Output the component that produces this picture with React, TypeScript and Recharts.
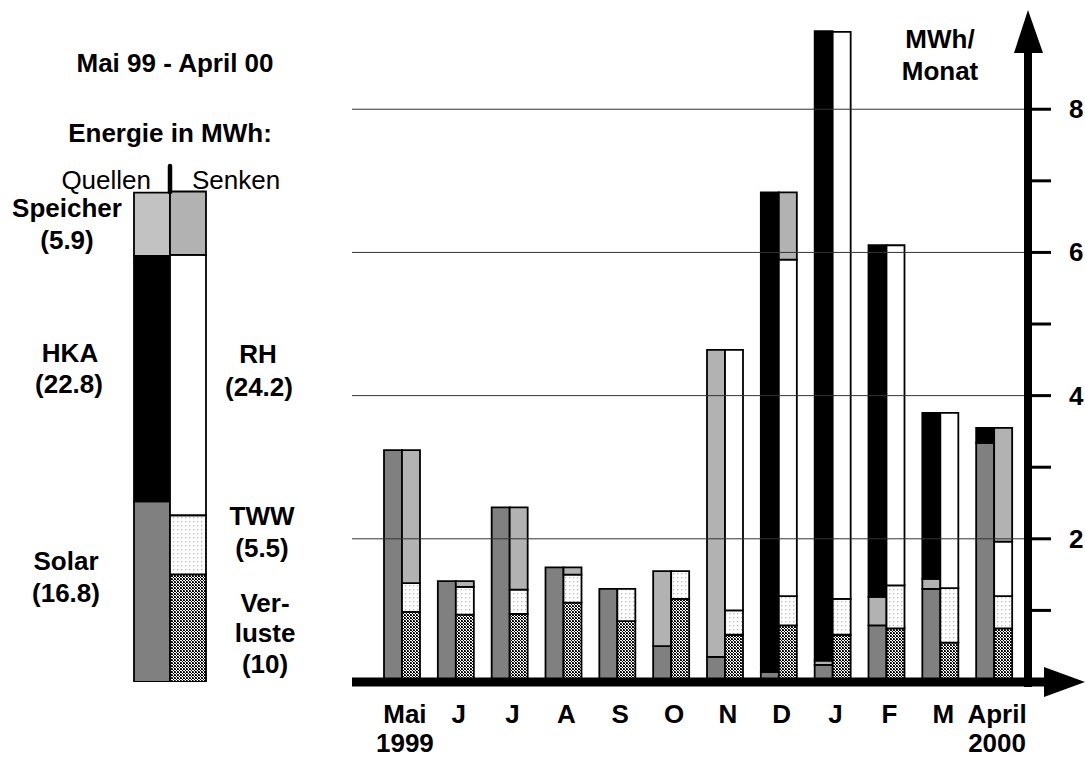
import React from "react";
import {
  BarChart,
  Bar,
  XAxis,
  YAxis,
  ReferenceLine,
} from "recharts";

// monthly values, MWh per month, Mai 1999 - April 2000
const months = ["Mai", "J", "J", "A", "S", "O", "N", "D", "J", "F", "M", "April"];
const years = ["1999", "", "", "", "", "", "", "", "", "", "", "2000"];

// Quellen (sources)
const solar = [3.24, 1.41, 2.44, 1.6, 1.3, 0.5, 0.35, 0.14, 0.24, 0.79, 1.3, 3.34];
const speicherIn = [0, 0, 0, 0, 0, 1.05, 4.29, 0, 0.06, 0.4, 0.14, 0];
const hka = [0, 0, 0, 0, 0, 0, 0, 6.7, 8.79, 4.91, 2.32, 0.21];

// Senken (sinks)
const verluste = [0.98, 0.94, 0.95, 1.11, 0.85, 1.16, 0.66, 0.79, 0.66, 0.75, 0.55, 0.75];
const tww = [0.4, 0.39, 0.34, 0.39, 0.45, 0.39, 0.34, 0.41, 0.5, 0.6, 0.76, 0.45];
const rh = [0, 0, 0, 0, 0, 0, 3.64, 4.7, 7.92, 4.75, 2.45, 0.76];
const speicherOut = [1.86, 0.08, 1.15, 0.1, 0, 0, 0, 0.94, 0, 0, 0, 1.59];

const yTicks = [1, 2, 3, 4, 5, 6, 7, 8];
const gridValues = [2, 4, 6, 8];

// yearly totals (left panel)
const totalQuellen = { solar: 16.8, hka: 22.8, speicher: 5.9 };
const totalSenken = { verluste: 10, tww: 5.5, rh: 24.2, speicher: 5.9 };

const FONT = "'Liberation Sans', Arial, sans-serif";
const DARK = "#808080";
const LIGHT = "#b2b2b2";

const monthData = months.map((_, i) => ({
  key: i,
  solar: solar[i],
  speicherIn: speicherIn[i],
  hka: hka[i],
  verluste: verluste[i],
  tww: tww[i],
  rh: rh[i],
  speicherOut: speicherOut[i],
}));

const totalData = [
  {
    key: 0,
    solar: totalQuellen.solar,
    hka: totalQuellen.hka,
    speicherIn: totalQuellen.speicher,
    verluste: totalSenken.verluste,
    tww: totalSenken.tww,
    rh: totalSenken.rh,
    speicherOut: totalSenken.speicher,
  },
];

const XTick = ({ x, y, payload }: any) => {
  const i = Number(payload.value);
  return (
    <g fontFamily={FONT} fontSize={26} fontWeight="bold" fill="#000">
      <text x={x + 3} y={y + 41} textAnchor="middle">
        {months[i]}
      </text>
      {years[i] ? (
        <text x={x + 3} y={y + 70} textAnchor="middle">
          {years[i]}
        </text>
      ) : null}
    </g>
  );
};

const YTick = ({ x, y, payload }: any) =>
  payload.value % 2 === 0 ? (
    <text
      x={x}
      y={y + 9}
      fontFamily={FONT}
      fontSize={26}
      fontWeight="bold"
      fill="#000"
      textAnchor="start"
    >
      {payload.value}
    </text>
  ) : (
    <g />
  );

const barProps = { stroke: "#000", strokeWidth: 1.8, isAnimationActive: false };

function Label({ x, y, children, anchor = "middle", bold = true }: any) {
  return (
    <text
      x={x}
      y={y}
      textAnchor={anchor}
      fontFamily={FONT}
      fontSize={26}
      fontWeight={bold ? "bold" : "normal"}
      fill="#000"
    >
      {children}
    </text>
  );
}

export default function App() {
  return (
    <div
      style={{
        position: "absolute",
        left: 0,
        top: 0,
        width: 1085,
        height: 758,
        background: "#fff",
        fontFamily: FONT,
        overflow: "hidden",
      }}
    >
      {/* shared fill patterns */}
      <svg width={0} height={0} style={{ position: "absolute" }}>
        <defs>
          <pattern id="hatch" width={3} height={3} patternUnits="userSpaceOnUse">
            <rect width={3} height={3} fill="#fff" />
            <rect x={0} y={0} width={1} height={1} fill="#000" />
            <rect x={1} y={1} width={1} height={1} fill="#000" />
            <rect x={2} y={2} width={1} height={1} fill="#000" />
            <rect x={2} y={0} width={1} height={1} fill="#000" />
            <rect x={0} y={2} width={1} height={1} fill="#555" />
          </pattern>
          <pattern id="dots" width={4} height={4} patternUnits="userSpaceOnUse">
            <rect width={4} height={4} fill="#fff" />
            <rect x={1} y={1} width={1.3} height={1.3} fill="#b8b8b8" />
          </pattern>
        </defs>
      </svg>

      {/* left panel: yearly balance */}
      <div style={{ position: "absolute", left: 88, top: 0 }}>
        <BarChart
          width={164}
          height={682}
          data={totalData}
          margin={{ top: 0, right: 0, bottom: 0, left: 0 }}
          barSize={36}
          barGap={0}
        >
          <XAxis dataKey="key" hide />
          <YAxis hide domain={[0, 63.4]} />
          <Bar dataKey="solar" stackId="q" fill={DARK} {...barProps} />
          <Bar dataKey="hka" stackId="q" fill="#000" {...barProps} />
          <Bar dataKey="speicherIn" stackId="q" fill="#c2c2c2" {...barProps} />
          <Bar dataKey="verluste" stackId="s" fill="url(#hatch)" {...barProps} />
          <Bar dataKey="tww" stackId="s" fill="url(#dots)" {...barProps} />
          <Bar dataKey="rh" stackId="s" fill="#fff" {...barProps} />
          <Bar dataKey="speicherOut" stackId="s" fill={LIGHT} {...barProps} />
        </BarChart>
      </div>

      {/* main monthly chart */}
      <div style={{ position: "absolute", left: 0, top: 0 }}>
        <BarChart
          width={1085}
          height={758}
          data={monthData}
          margin={{ top: 9, right: 0, bottom: 0, left: 352 }}
          barSize={18}
          barGap={0}
        >
          <XAxis
            dataKey="key"
            type="category"
            padding={{ left: 23, right: 7 }}
            height={76}
            tickLine={false}
            tickSize={0}
            tickMargin={0}
            axisLine={{ stroke: "#000", strokeWidth: 9 }}
            tick={<XTick />}
            interval={0}
          />
          <YAxis
            orientation="right"
            width={57}
            domain={[0, 9.4]}
            ticks={yTicks}
            interval={0}
            axisLine={false}
            tickLine={{ stroke: "#000", strokeWidth: 3 }}
            tickSize={23}
            tickMargin={18}
            tick={<YTick />}
          />
          <Bar dataKey="solar" stackId="q" fill={DARK} {...barProps} />
          <Bar dataKey="speicherIn" stackId="q" fill={LIGHT} {...barProps} />
          <Bar dataKey="hka" stackId="q" fill="#000" {...barProps} />
          <Bar dataKey="verluste" stackId="s" fill="url(#hatch)" {...barProps} />
          <Bar dataKey="tww" stackId="s" fill="url(#dots)" {...barProps} />
          <Bar dataKey="rh" stackId="s" fill="#fff" {...barProps} />
          <Bar dataKey="speicherOut" stackId="s" fill={LIGHT} {...barProps} />
          {gridValues.map((v) => (
            <ReferenceLine key={v} y={v} stroke="#333" strokeWidth={1} />
          ))}
        </BarChart>
      </div>

      {/* axis arrows and free text */}
      <svg
        width={1085}
        height={758}
        style={{ position: "absolute", left: 0, top: 0, pointerEvents: "none" }}
      >
        <rect x={1024} y={40} width={8} height={647} fill="#000" />
        <polygon points="1028,10 1014,53 1043,53" fill="#000" />
        <rect x={1026} y={677.5} width={20} height={9} fill="#000" />
        <polygon points="1085,682 1044,667 1044,697" fill="#000" />

        <Label x={940} y={48}>MWh/</Label>
        <Label x={940} y={80}>Monat</Label>

        <Label x={175} y={72}>Mai 99 - April 00</Label>
        <Label x={170} y={142}>Energie in MWh:</Label>
        <Label x={151} y={189} anchor="end" bold={false}>Quellen</Label>
        <Label x={192} y={189} anchor="start" bold={false}>Senken</Label>
        <line x1={170} y1={166} x2={170} y2={192} stroke="#000" strokeWidth={4.5} strokeLinecap="round" />

        <Label x={67} y={217}>Speicher</Label>
        <Label x={67} y={249}>(5.9)</Label>
        <Label x={70} y={362}>HKA</Label>
        <Label x={69} y={393}>(22.8)</Label>
        <Label x={66} y={570}>Solar</Label>
        <Label x={66} y={602}>(16.8)</Label>

        <Label x={258} y={363}>RH</Label>
        <Label x={259} y={396}>(24.2)</Label>
        <Label x={262} y={525}>TWW</Label>
        <Label x={262} y={557}>(5.5)</Label>
        <Label x={265} y={612}>Ver-</Label>
        <Label x={265} y={642}>luste</Label>
        <Label x={265} y={673}>(10)</Label>
      </svg>
    </div>
  );
}
